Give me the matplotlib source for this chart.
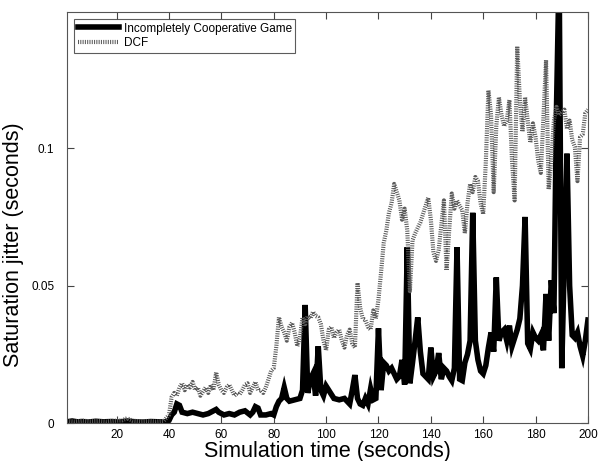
import numpy as np
import matplotlib
matplotlib.use("Agg")
import matplotlib.pyplot as plt

plt.rcParams['font.family'] = ['Liberation Sans', 'DejaVu Sans']

# Incompletely Cooperative Game
icg_t = [1, 3, 5, 7, 9, 12, 15, 18, 21, 24, 27, 30, 33, 36, 39,
         40, 41, 42, 43, 44, 45, 47, 49, 51, 53, 55, 57, 58, 59, 61, 63, 65, 67, 69,
         71, 72, 73, 74, 75, 77, 79, 80, 81, 82, 83, 84, 85, 86, 88, 90,
         91, 92, 93, 94, 95, 96, 97, 98, 99, 100, 101, 103, 105, 107, 109, 110,
         111, 112, 113, 114, 115, 116, 117, 118, 119, 120,
         121, 122, 123, 124, 125, 126, 127, 128, 129, 130,
         131, 132, 133, 134, 135, 136, 137, 138, 139, 140,
         141, 142, 143, 144, 145, 146, 147, 148, 149, 150,
         151, 152, 153, 154, 155, 156, 157, 158, 159, 160,
         161, 162, 163, 164, 165, 166, 167, 168, 169, 170,
         171, 172, 173, 174, 175, 176, 177, 178, 179, 180,
         181, 182, 183, 184, 185, 186, 187, 188, 189, 190,
         191, 192, 193, 194, 195, 196, 197, 198, 199, 200]
icg_v = [0.0005, 0.0008, 0.0005, 0.0006, 0.0004, 0.0007, 0.0005, 0.0006, 0.0004, 0.0008,
         0.0005, 0.0004, 0.0006, 0.0005, 0.0005,
         0.001, 0.003, 0.004, 0.007, 0.0065, 0.004, 0.0035, 0.004, 0.0035, 0.003,
         0.0035, 0.0045, 0.005, 0.004, 0.003, 0.0035, 0.003, 0.004, 0.0045,
         0.003, 0.004, 0.006, 0.0055, 0.003, 0.003, 0.0035, 0.003, 0.006, 0.008,
         0.009, 0.013, 0.009, 0.008, 0.0085, 0.009,
         0.012, 0.043, 0.011, 0.016, 0.018, 0.010, 0.028, 0.012, 0.010, 0.0135,
         0.012, 0.009, 0.0085, 0.009, 0.007, 0.012,
         0.0175, 0.009, 0.007, 0.0065, 0.009, 0.007, 0.0125, 0.0085, 0.009, 0.0345,
         0.012, 0.022, 0.021, 0.019, 0.020, 0.018, 0.016, 0.017, 0.023, 0.014,
         0.064, 0.0145, 0.022, 0.030, 0.0385, 0.026, 0.018, 0.017, 0.016, 0.0275,
         0.017, 0.019, 0.0255, 0.016, 0.020, 0.019, 0.017, 0.0155, 0.020, 0.064,
         0.016, 0.0155, 0.022, 0.025, 0.030, 0.0765, 0.030, 0.023, 0.019, 0.018,
         0.021, 0.0275, 0.033, 0.026, 0.053, 0.030, 0.033, 0.034, 0.030, 0.0355,
         0.028, 0.031, 0.034, 0.038, 0.050, 0.075, 0.029, 0.027, 0.033, 0.031,
         0.030, 0.032, 0.0265, 0.047, 0.030, 0.052, 0.040, 0.115, 0.165, 0.020,
         0.060, 0.098, 0.050, 0.032, 0.031, 0.033, 0.028, 0.0245, 0.030, 0.0375]

# DCF
dcf_t = [1, 4, 7, 10, 13, 16, 19, 22, 24, 26, 29, 32, 35, 38,
         40, 41, 42, 43, 44, 45, 46, 47, 48, 49, 50,
         51, 52, 53, 54, 55, 56, 57, 58, 59, 60,
         61, 62, 63, 64, 65, 66, 67, 68, 69, 70,
         71, 72, 73, 74, 75, 76, 77, 78, 79, 80,
         81, 82, 83, 84, 85, 86, 87, 88, 89, 90,
         91, 92, 93, 94, 95, 96, 97, 98, 99, 100,
         101, 102, 103, 104, 105, 106, 107, 108, 109, 110,
         111, 112, 113, 114, 115, 116, 117, 118, 119, 120,
         121, 122, 123, 124, 125, 126, 127, 128, 129, 130,
         131, 132, 133, 134, 135, 136, 137, 138, 139, 140,
         141, 142, 143, 144, 145, 146, 147, 148, 149, 150,
         151, 152, 153, 154, 155, 156, 157, 158, 159, 160,
         161, 162, 163, 164, 165, 166, 167, 168, 169, 170,
         171, 172, 173, 174, 175, 176, 177, 178, 179, 180,
         181, 182, 183, 184, 185, 186, 187, 188, 189, 190,
         191, 192, 193, 194, 195, 196, 197, 198, 199, 200]
dcf_v = [0.0008, 0.0006, 0.0009, 0.0007, 0.0008, 0.0006, 0.0009, 0.0010, 0.0018, 0.0009,
         0.0007, 0.0008, 0.0006, 0.0008,
         0.003, 0.0095, 0.011, 0.010, 0.013, 0.0145, 0.012, 0.014, 0.013, 0.015, 0.012,
         0.013, 0.010, 0.0115, 0.013, 0.011, 0.014, 0.012, 0.0185, 0.014, 0.012,
         0.011, 0.013, 0.014, 0.012, 0.010, 0.011, 0.0105, 0.012, 0.014, 0.0145,
         0.011, 0.013, 0.015, 0.012, 0.012, 0.011, 0.013, 0.016, 0.019, 0.020,
         0.028, 0.0385, 0.035, 0.033, 0.030, 0.035, 0.0365, 0.033, 0.028, 0.031,
         0.0385, 0.036, 0.039, 0.038, 0.0405, 0.039, 0.0385, 0.036, 0.030, 0.0265,
         0.034, 0.035, 0.031, 0.033, 0.034, 0.030, 0.0275, 0.032, 0.034, 0.029,
         0.0275, 0.051, 0.042, 0.038, 0.0375, 0.035, 0.034, 0.041, 0.038, 0.045,
         0.055, 0.0655, 0.070, 0.0765, 0.080, 0.087, 0.084, 0.081, 0.074, 0.078,
         0.070, 0.048, 0.0665, 0.069, 0.071, 0.073, 0.076, 0.079, 0.082, 0.074,
         0.062, 0.059, 0.063, 0.072, 0.081, 0.0555, 0.070, 0.0835, 0.078, 0.081,
         0.079, 0.0775, 0.069, 0.080, 0.087, 0.084, 0.0895, 0.088, 0.080, 0.076,
         0.095, 0.121, 0.112, 0.084, 0.108, 0.1185, 0.112, 0.108, 0.110, 0.1175,
         0.0955, 0.081, 0.137, 0.1175, 0.106, 0.1185, 0.110, 0.102, 0.109, 0.104,
         0.0955, 0.091, 0.111, 0.132, 0.085, 0.0955, 0.110, 0.115, 0.112, 0.113,
         0.114, 0.107, 0.110, 0.103, 0.1005, 0.088, 0.104, 0.105, 0.1127, 0.114]

x_ticks = [20, 40, 60, 80, 100, 120, 140, 160, 180, 200]
y_ticks = [0, 0.05, 0.1]

fig = plt.figure(figsize=(6.08, 4.61), dpi=100)
ax = fig.add_axes([0.110, 0.082, 0.857, 0.892])

ax.plot(icg_t, icg_v, color="black", lw=4.0, solid_joinstyle="miter",
        label="Incompletely Cooperative Game")
ax.plot(dcf_t, dcf_v, color="#5a5a5a", lw=3.0, dashes=(0.25, 0.3),
        dash_capstyle="butt", label="DCF")

ax.set_xlim(1, 200)
ax.set_ylim(0, 0.1495)
ax.set_xticks(x_ticks)
ax.set_yticks(y_ticks)
ax.set_yticklabels(["0", "0.05", "0.1"])
ax.tick_params(direction="in", length=5, width=0.8, color="#444444",
               top=True, right=True, labelsize=8.5)
ax.tick_params(axis="x", pad=4)
ax.tick_params(axis="y", pad=9)
for sp in ax.spines.values():
    sp.set_color("#555555")
    sp.set_linewidth(0.8)

ax.set_xlabel("Simulation time (seconds)", fontsize=15.5, labelpad=0)
ax.set_ylabel("Saturation jitter (seconds)", fontsize=15.5)
# the original puts the y label a bit below the middle of the axis
ax.yaxis.set_label_coords(-0.082, 0.435)

leg = ax.legend(loc="upper left", fontsize=8.5, frameon=True, fancybox=False,
                edgecolor="#333333", handlelength=3.5, borderaxespad=0.6,
                borderpad=0.3, labelspacing=0.2, handletextpad=0.4)
leg.get_frame().set_linewidth(0.8)

fig.savefig("out.png", dpi=100)
